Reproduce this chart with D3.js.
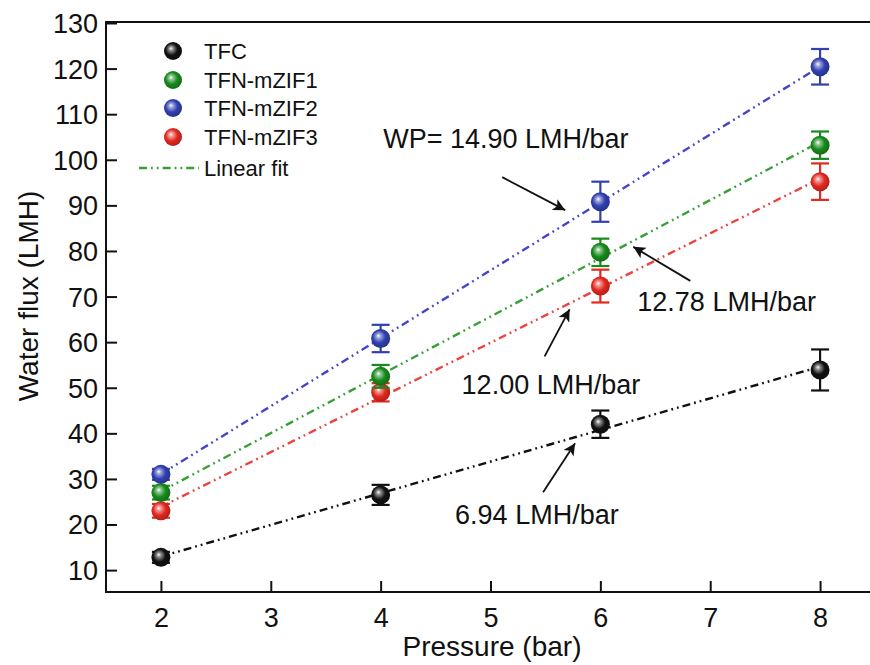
<!DOCTYPE html>
<html>
<head>
<meta charset="utf-8">
<script src="https://cdn.jsdelivr.net/npm/d3@7"></script>
<style>
  html, body { margin: 0; padding: 0; background: #fff; }
  svg { display: block; font-family: "Liberation Sans", Arial, sans-serif; }
</style>
</head>
<body>
<svg id="chart" width="870" height="665"></svg>
<script>
// Water flux of the membranes versus applied pressure
const pressures = [2, 4, 6, 8];
const seriesNames = ["TFC", "TFN-mZIF1", "TFN-mZIF2", "TFN-mZIF3"];
const fluxTFC   = [12.8, 26.5, 42.0, 53.9];
const fluxZIF1  = [27.0, 52.5, 79.7, 103.2];
const fluxZIF2  = [31.0, 60.8, 90.8, 120.4];
const fluxZIF3  = [23.0, 49.0, 72.3, 95.2];
const errTFC    = [1.2, 2.2, 3.0, 4.5];
const errZIF1   = [1.5, 2.5, 3.0, 3.0];
const errZIF2   = [1.2, 3.0, 4.4, 3.9];
const errZIF3   = [1.5, 2.0, 3.6, 4.0];
// water permeance (slope of the linear fit), LMH/bar
const slopes    = [6.94, 12.78, 14.90, 12.00];
const xTicks = [2, 3, 4, 5, 6, 7, 8];
const yTicks = [10, 20, 30, 40, 50, 60, 70, 80, 90, 100, 110, 120, 130];

const fluxes = [fluxTFC, fluxZIF1, fluxZIF2, fluxZIF3];
const errors = [errTFC, errZIF1, errZIF2, errZIF3];
const markerColors = ["#111111", "#178a1c", "#3040b0", "#e2281f"];
const lineColors   = ["#111111", "#36a036", "#4444cc", "#ee4040"];

const svg = d3.select("#chart");
const plotL = 106, plotT = 22, plotB = 592, plotR = 875;

const x = d3.scaleLinear().domain([1.5, 8.5]).range([plotL, plotR]);
const y = d3.scaleLinear().domain([5.2, 130]).range([plotB, plotT + 1]);

// sphere-like shading for markers
const defs = svg.append("defs");
markerColors.forEach((c, i) => {
  const g = defs.append("radialGradient")
    .attr("id", "ball" + i)
    .attr("cx", "45%").attr("cy", "45%").attr("r", "60%")
    .attr("fx", "38%").attr("fy", "35%");
  const base = d3.color(c);
  g.append("stop").attr("offset", "0%").attr("stop-color", "#ffffff");
  g.append("stop").attr("offset", "18%").attr("stop-color", d3.interpolateRgb(c, "#ffffff")(0.55));
  g.append("stop").attr("offset", "55%").attr("stop-color", c);
  g.append("stop").attr("offset", "100%").attr("stop-color", base.darker(0.8).formatHex());
});

// axes (ticks point inward)
const xAxis = d3.axisBottom(x).tickValues(xTicks).tickSize(-11).tickPadding(16).tickFormat(d3.format("d"));
const yAxis = d3.axisLeft(y).tickValues(yTicks).tickSize(-11).tickPadding(8).tickFormat(d3.format("d"));

const gx = svg.append("g").attr("transform", `translate(0,${plotB})`).call(xAxis);
const gy = svg.append("g").attr("transform", `translate(${plotL},0)`).call(yAxis);
[gx, gy].forEach(g => {
  g.select(".domain").remove();
  g.selectAll(".tick line").attr("stroke", "#111").attr("stroke-width", 2);
  g.selectAll(".tick text").attr("fill", "#111").style("font-size", "27px");
});
gx.selectAll(".tick text").attr("dy", "0.71em");
gy.selectAll(".tick text").attr("dy", "0.35em");

// frame
svg.append("rect")
  .attr("x", plotL).attr("y", plotT)
  .attr("width", plotR - plotL).attr("height", plotB - plotT)
  .attr("fill", "none").attr("stroke", "#111").attr("stroke-width", 2);

// axis titles
svg.append("text")
  .attr("x", 492).attr("y", 656)
  .attr("text-anchor", "middle").attr("fill", "#111")
  .style("font-size", "28px").text("Pressure (bar)");
svg.append("text")
  .attr("transform", `translate(38,296) rotate(-90)`)
  .attr("text-anchor", "middle").attr("fill", "#111")
  .style("font-size", "28px").text("Water flux (LMH)");

// linear fits through each data set with the stated slope
const dash = "8,4,1.8,4,1.8,4";
const xMean = d3.mean(pressures);
const fits = fluxes.map((f, i) => {
  const yMean = d3.mean(f);
  return p => yMean + slopes[i] * (p - xMean);
});
const order = [0, 3, 1, 2];
order.forEach(i => {
  const p0 = d3.min(pressures), p1 = d3.max(pressures);
  svg.append("line")
    .attr("x1", x(p0)).attr("y1", y(fits[i](p0)))
    .attr("x2", x(p1)).attr("y2", y(fits[i](p1)))
    .attr("stroke", lineColors[i]).attr("stroke-width", 2.4)
    .attr("stroke-dasharray", dash);
});

// error bars and markers
order.forEach(i => {
  const g = svg.append("g");
  const pts = pressures.map((p, k) => ({ p, v: fluxes[i][k], e: errors[i][k] }));
  g.selectAll("line.err").data(pts).join("line")
    .attr("class", "err")
    .attr("x1", d => x(d.p)).attr("x2", d => x(d.p))
    .attr("y1", d => y(d.v - d.e)).attr("y2", d => y(d.v + d.e))
    .attr("stroke", markerColors[i]).attr("stroke-width", 2.2);
  ["top", "bot"].forEach(side => {
    g.selectAll("line.cap" + side).data(pts).join("line")
      .attr("class", "cap" + side)
      .attr("x1", d => x(d.p) - 9).attr("x2", d => x(d.p) + 9)
      .attr("y1", d => y(side === "top" ? d.v + d.e : d.v - d.e))
      .attr("y2", d => y(side === "top" ? d.v + d.e : d.v - d.e))
      .attr("stroke", markerColors[i]).attr("stroke-width", 2.2);
  });
  g.selectAll("circle").data(pts).join("circle")
    .attr("cx", d => x(d.p)).attr("cy", d => y(d.v)).attr("r", 9.5)
    .attr("fill", `url(#ball${i})`);
});

// legend
const legend = svg.append("g");
const rowY = [51, 80, 108, 137];
seriesNames.forEach((name, i) => {
  legend.append("circle").attr("cx", 173).attr("cy", rowY[i]).attr("r", 9)
    .attr("fill", `url(#ball${i})`);
  legend.append("text").attr("x", 204).attr("y", rowY[i]).attr("dy", "0.36em")
    .attr("fill", "#111").style("font-size", "22px").text(name);
});
legend.append("line").attr("x1", 139).attr("x2", 199).attr("y1", 168).attr("y2", 168)
  .attr("stroke", lineColors[1]).attr("stroke-width", 2.4).attr("stroke-dasharray", dash);
legend.append("text").attr("x", 204).attr("y", 168).attr("dy", "0.36em")
  .attr("fill", "#111").style("font-size", "22px").text("Linear fit");

// slope annotations: arrow tip sits next to the fit line at pressure p
defs.append("marker")
  .attr("id", "arrowhead").attr("viewBox", "0 0 10 10")
  .attr("refX", 10).attr("refY", 5)
  .attr("markerWidth", 19).attr("markerHeight", 12)
  .attr("markerUnits", "userSpaceOnUse")
  .attr("orient", "auto")
  .append("path").attr("d", "M0,0 L10,5 L0,10 L2.5,5 Z").attr("fill", "#111");

const notes = [
  { s: 2, p: 5.68, dy: -14, tail: [-63, -33], text: "WP= " + slopes[2].toFixed(2) + " LMH/bar", tx: -182, ty: -62 },
  { s: 1, p: 6.30, dy: 6,  tail: [57, 34],   text: slopes[1].toFixed(2) + " LMH/bar", tx: 4,   ty: 64 },
  { s: 3, p: 5.72, dy: 6,  tail: [-25, 47],  text: slopes[3].toFixed(2) + " LMH/bar", tx: -108, ty: 85 },
  { s: 0, p: 5.77, dy: 6,  tail: [-32, 49],  text: slopes[0].toFixed(2) + " LMH/bar", tx: -120, ty: 81 }
];
notes.forEach(n => {
  const tipX = x(n.p), tipY = y(fits[n.s](n.p)) + n.dy;
  svg.append("line")
    .attr("x1", tipX + n.tail[0]).attr("y1", tipY + n.tail[1])
    .attr("x2", tipX).attr("y2", tipY)
    .attr("stroke", "#111").attr("stroke-width", 1.8)
    .attr("marker-end", "url(#arrowhead)");
  svg.append("text")
    .attr("x", tipX + n.tx).attr("y", tipY + n.ty)
    .attr("fill", "#111").style("font-size", "27px").text(n.text);
});
</script>
</body>
</html>
